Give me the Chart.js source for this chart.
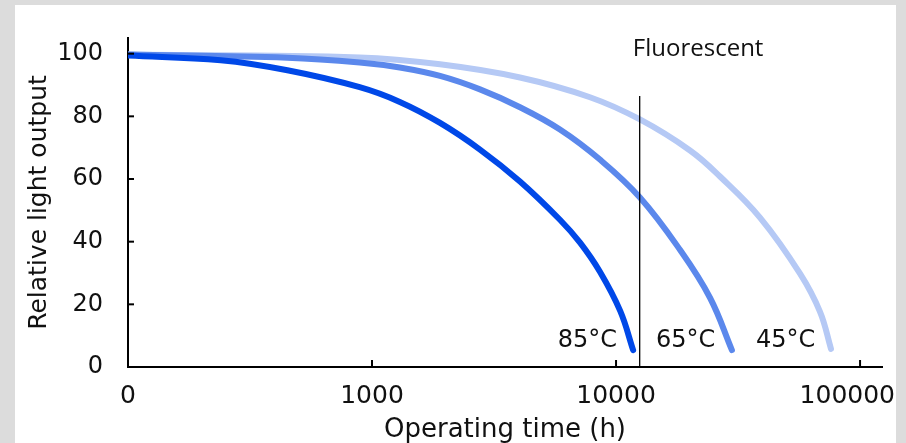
<!DOCTYPE html>
<html>
<head>
<meta charset="utf-8">
<script src="https://cdn.jsdelivr.net/npm/chart.js@4.4.1/dist/chart.umd.min.js"></script>
<style>
  html, body { margin: 0; padding: 0; background: #dcdcdc; width: 906px; height: 443px; overflow: hidden; }
  #caja { position: absolute; left: 15px; top: 5px; width: 881px; height: 438px; background: #fff; }
</style>
</head>
<body>
<div id="caja"><canvas id="lumenChart"></canvas></div>
<script>
// Curvas de degradacion (horas de operacion vs salida relativa de luz)
const hours85 = [100, 240, 450, 890, 1300, 1900, 2770, 4040, 5890, 7120, 8590, 10400, 11750];
const output85 = [99.4, 97.9, 94.7, 89.3, 84.6, 77.9, 69.4, 59.2, 47, 39.7, 30.4, 17.9, 5.4];

const hours65 = [100, 450, 890, 1300, 1900, 2770, 4040, 5890, 8590, 12530, 18280, 24270, 29840];
const output65 = [99.7, 98.7, 97.2, 95.6, 92.9, 88.6, 82.9, 75.8, 66.2, 54.1, 37.4, 22.1, 5.4];

const hours45 = [100, 890, 1900, 4040, 7820, 12530, 20100, 26670, 38900, 56770, 68550, 76000];
const output45 = [99.7, 98.8, 96.6, 92.4, 86.1, 79, 69.1, 60.8, 47.7, 29.8, 17.6, 5.8];

// Linea vertical de referencia (fluorescente)
const fluorescentHours = 12500;
const fluorescentTop = 86.5;
const fluorescentLabelHours = 21700;
const fluorescentLabelOutput = 101.4;

// Etiquetas de temperatura
const tempLabels = ['85°C', '65°C', '45°C'];
const tempLabelHours = [10100, 25500, 65500];
const tempLabelOutput = 8.5;

// Ticks
const xTicks = [100, 1000, 10000, 100000];
const xTickLabels = ['0', '1000', '10000', '100000'];
const yTicks = [0, 20, 40, 60, 80, 100];

function puntos(horas, salida) {
    return horas.map((h, i) => ({ x: h, y: salida[i] }));
}

// Marcas hacia adentro y textos sobre el grafico
const marcas = {
    id: 'marcas',
    afterDatasetsDraw(chart) {
        const { ctx, chartArea, scales: { x, y } } = chart;
        ctx.save();
        ctx.strokeStyle = '#000';
        ctx.lineWidth = 2;
        yTicks.slice(1).forEach(v => {
            const py = y.getPixelForValue(v);
            ctx.beginPath();
            ctx.moveTo(chartArea.left, py);
            ctx.lineTo(chartArea.left + 6, py);
            ctx.stroke();
        });
        xTicks.slice(1).forEach(v => {
            const px = x.getPixelForValue(v);
            ctx.beginPath();
            ctx.moveTo(px, chartArea.bottom);
            ctx.lineTo(px, chartArea.bottom - 7);
            ctx.stroke();
        });

        ctx.fillStyle = '#111';
        ctx.font = '24px "DejaVu Sans"';
        ctx.textAlign = 'right';
        ctx.textBaseline = 'middle';
        tempLabels.forEach((t, i) => {
            ctx.fillText(t, x.getPixelForValue(tempLabelHours[i]), y.getPixelForValue(tempLabelOutput));
        });

        // la ultima etiqueta del eje x queda pegada al borde derecho
        const ultimo = xTickLabels.length - 1;
        ctx.font = '25px "DejaVu Sans"';
        ctx.textBaseline = 'top';
        ctx.fillText(xTickLabels[ultimo], chart.width - 1, chartArea.bottom + 17);

        ctx.font = '24px "Open Sans"';
        ctx.textAlign = 'center';
        ctx.textBaseline = 'middle';
        ctx.fillText('Fluorescent', x.getPixelForValue(fluorescentLabelHours), y.getPixelForValue(fluorescentLabelOutput));
        ctx.restore();
    }
};

Chart.defaults.font.family = '"DejaVu Sans"';
Chart.defaults.color = '#111';

const ctxLinea = document.getElementById('lumenChart').getContext('2d');
new Chart(ctxLinea, {
    type: 'line',
    data: {
        datasets: [
            {
                label: 'Fluorescent',
                data: [{ x: fluorescentHours, y: 0 }, { x: fluorescentHours, y: fluorescentTop }],
                borderColor: '#000',
                borderWidth: 1.3,
                pointRadius: 0
            },
            {
                label: '85°C',
                data: puntos(hours85, output85),
                borderColor: '#0048e8',
                borderWidth: 6,
                borderCapStyle: 'round',
                tension: 0.4,
                pointRadius: 0
            },
            {
                label: '65°C',
                data: puntos(hours65, output65),
                borderColor: '#5b88ec',
                borderWidth: 6,
                borderCapStyle: 'round',
                tension: 0.4,
                pointRadius: 0
            },
            {
                label: '45°C',
                data: puntos(hours45, output45),
                borderColor: '#b5c9f5',
                borderWidth: 6,
                borderCapStyle: 'round',
                tension: 0.4,
                pointRadius: 0
            }
        ]
    },
    options: {
        responsive: true,
        maintainAspectRatio: false,
        animation: false,
        layout: { padding: { top: 33, right: 14, left: 0, bottom: 0 } },
        plugins: {
            legend: { display: false },
            tooltip: { enabled: false }
        },
        scales: {
            x: {
                type: 'logarithmic',
                min: 100,
                max: 123000,
                afterBuildTicks: scale => { scale.ticks = xTicks.map(v => ({ value: v })); },
                afterFit: scale => { scale.height = 76; scale.paddingLeft = 0; scale.paddingRight = 0; },
                ticks: {
                    autoSkip: false,
                    maxRotation: 0,
                    padding: 14,
                    font: { size: 25 },
                    callback: (value, index) => index === xTickLabels.length - 1 ? '' : xTickLabels[index]
                },
                grid: { display: false, drawTicks: false },
                border: { display: true, color: '#000', width: 2 },
                title: {
                    display: true,
                    text: 'Operating time (h)',
                    font: { size: 26 },
                    padding: { top: 0, bottom: -3 }
                }
            },
            y: {
                type: 'linear',
                min: 0,
                max: 105,
                afterBuildTicks: scale => { scale.ticks = yTicks.map(v => ({ value: v })); },
                afterFit: scale => { scale.width = 113; scale.paddingTop = 0; scale.paddingBottom = 0; },
                ticks: {
                    padding: 25,
                    font: { size: 24 }
                },
                grid: { display: false, drawTicks: false },
                border: { display: true, color: '#000', width: 2 },
                title: {
                    display: true,
                    text: 'Relative light output',
                    font: { size: 25 },
                    padding: 9
                }
            }
        }
    },
    plugins: [marcas]
});
</script>
</body>
</html>
